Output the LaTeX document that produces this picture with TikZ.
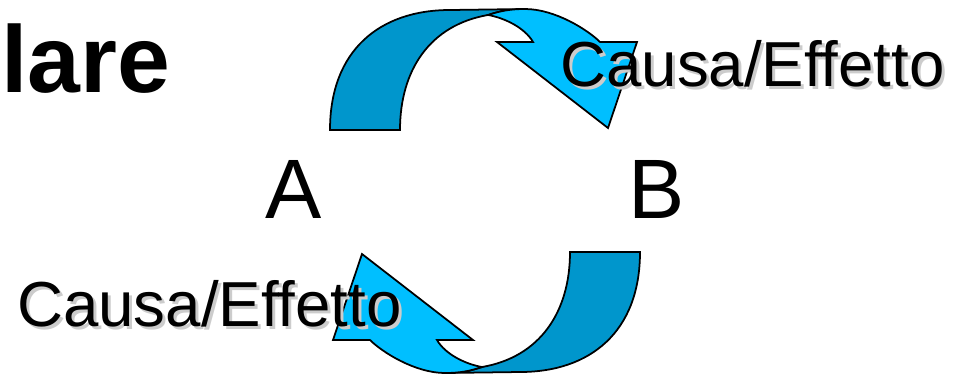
\documentclass[tikz,border=0pt]{standalone}
\usepackage{fontspec}
\setmainfont{Liberation Sans}[Ligatures=NoCommon]
\usepackage{xcolor}
\usepackage{tikz}

\definecolor{backblue}{RGB}{0,150,204}
\definecolor{frontblue}{RGB}{0,191,255}

\begin{document}
\begin{tikzpicture}[x=0.02cm,y=-0.02cm,
    every node/.style={inner sep=0pt,anchor=base west},
    band/.style={draw=black,line width=1pt},
    effect/.style={font=\fontsize{36.2}{40}\selectfont},
    effectshadow/.style={effect,text=black!20},
    letter/.style={font=\fontsize{48}{54}\selectfont}]
    \useasboundingbox (0,0) rectangle (963,373);
    % the two curved arrows, the lower one is the upper one turned round
    \foreach \turn in {0,180} {
        \begin{scope}[rotate around={\turn:(485,191)}]
            \filldraw[band,fill=backblue] (330,130) .. controls (330,50) and (380,10) .. (450,10) -- (525,9) .. controls (510,9) and (500,11) .. (488,15) .. controls (430,25) and (400,70) .. (400,130) -- cycle;
            \filldraw[band,fill=frontblue] (488,15) .. controls (500,11) and (510,9) .. (525,9) .. controls (555,9) and (588,30) .. (600,42) -- (637,42) -- (608,128) -- (497,42) -- (533,42) .. controls (525,28) and (505,18) .. (488,15) -- cycle;
        \end{scope}
    }
    \node[font=\bfseries\fontsize{54}{60}\selectfont] (title) at (1,92) {lare};
    \node[letter] (a) at (265,218) {A};
    \node[letter] (b) at (628,218) {B};
    % labels with their shadow
    \node[effectshadow] (shadowab) at (563,89.5) {Causa/Effetto};
    \node[effect] (effectab) at (560,86.5) {Causa/Effetto};
    \node[effectshadow] (shadowba) at (20,329.5) {Causa/Effetto};
    \node[effect] (effectba) at (17,326.5) {Causa/Effetto};
\end{tikzpicture}
\end{document}
